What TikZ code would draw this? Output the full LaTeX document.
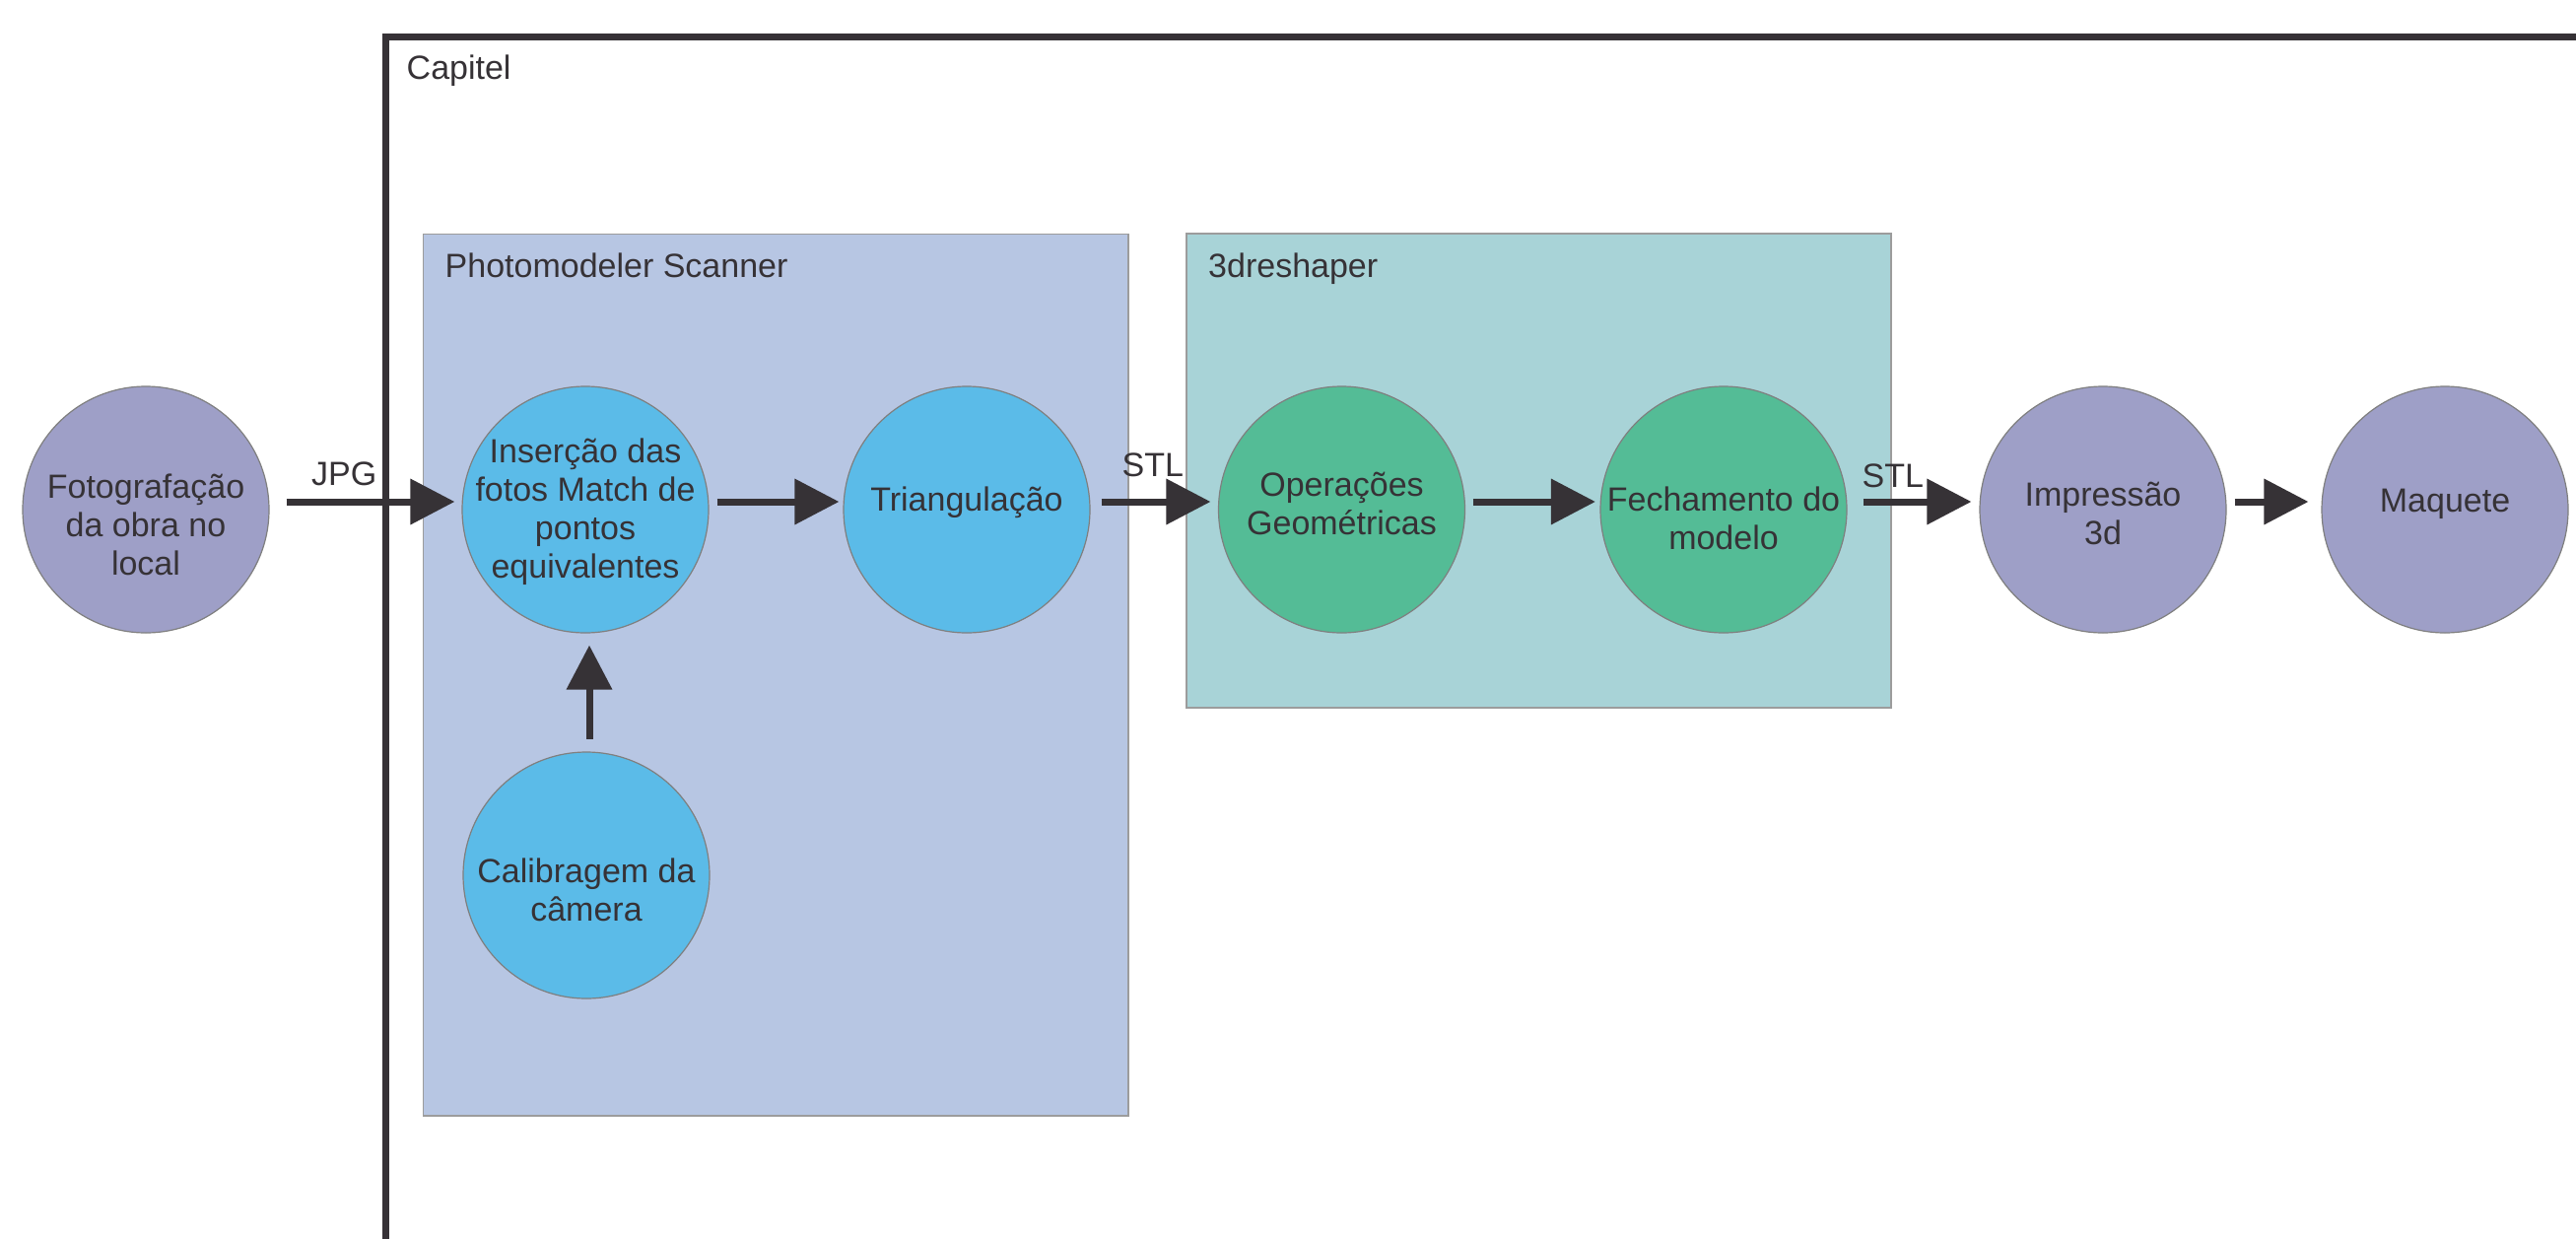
\documentclass[tikz,border=0pt]{standalone}
\usepackage{fontspec}
\setmainfont{Liberation Sans}
\usetikzlibrary{arrows.meta}
\definecolor{ink}{HTML}{363236}
\definecolor{boxA}{HTML}{B7C6E3}
\definecolor{boxB}{HTML}{A8D3D7}
\definecolor{cPurple}{HTML}{9E9FC7}
\definecolor{cBlue}{HTML}{5BBBE8}
\definecolor{cGreen}{HTML}{54BC96}
\definecolor{edgegray}{HTML}{7F7F7F}
\definecolor{boxedge}{HTML}{9C9C9C}
\begin{document}
\begin{tikzpicture}[x=1pt,y=-1pt,
  every node/.style={font=\fontsize{34}{39}\selectfont, text=ink},
  proc/.style={circle, draw=edgegray, line width=1.2pt, minimum size=250pt, inner sep=0pt},
  txt/.style={align=center, inner sep=0pt},
  lbl/.style={anchor=base west, inner sep=0pt},
  flow/.style={draw=ink, line width=7pt, -{Triangle[length=45pt,width=45pt]}},
  grp/.style={draw=boxedge, line width=1.5pt, anchor=north west, inner sep=0pt}]
\useasboundingbox (0,0) rectangle (2614,1256);
\fill[white] (0,0) rectangle (2614,1256);
% Capitel frame
\begin{scope}
\clip (0,0) rectangle (2614,1256);
\coordinate (fbot) at (391,1300);
\coordinate (fcorner) at (391,37);
\coordinate (fright) at (2700,37);
\draw[ink, line width=7pt] (fbot) -- (fcorner) -- (fright);
\end{scope}
\node[lbl] (capl) at (412.5,80.4) {Capitel};
% groups
\node[grp, fill=boxA, minimum width=715.5pt, minimum height=894.4pt] (pm) at (428.5,236.6) {};
\node[grp, fill=boxB, minimum width=715pt, minimum height=481pt] (rs) at (1203,236) {};
\node[lbl] (pml) at (451.5,281) {Photomodeler Scanner};
\node[lbl] (rsl) at (1226,281.4) {3dreshaper};
% circles
\node[proc, fill=cPurple] (foto) at (148,517) {};
\node[proc, fill=cBlue] (ins) at (594,517) {};
\node[proc, fill=cBlue] (tri) at (981,517) {};
\node[proc, fill=cGreen] (ope) at (1361.5,517) {};
\node[proc, fill=cGreen] (fec) at (1749,517) {};
\node[proc, fill=cPurple] (imp) at (2134,517) {};
\node[proc, fill=cPurple] (maq) at (2481,517) {};
\node[proc, fill=cBlue] (cal) at (595,888) {};
% texts
\node[txt] (foto-t) at ([yshift=-15.5pt]foto.center) {Fotografação\\da obra no\\local};
\node[txt] (ins-t) at ([yshift=-2.5pt]ins.center) {Inserção das\\fotos Match de\\pontos\\equivalentes};
\node[txt] (tri-t) at ([yshift=7.7pt]tri.center) {Triangulação};
\node[txt] (ope-t) at ([yshift=5.7pt]ope.center) {Operações\\Geométricas};
\node[txt] (fec-t) at ([yshift=-8.6pt]fec.center) {Fechamento do\\modelo};
\node[txt] (imp-t) at ([yshift=-3.7pt]imp.center) {Impressão\\3d};
\node[txt] (maq-t) at ([yshift=5.5pt]maq.center) {Maquete};
\node[txt] (cal-t) at ([yshift=-15pt]cal.center) {Calibragem da\\câmera};
% connectors
\draw[flow, shorten <=17pt, shorten >=7pt] ([yshift=8pt]foto.east) -- ([yshift=8pt]ins.west);
\draw[flow, shorten <=8pt, shorten >=4pt] ([yshift=8pt]ins.east) -- ([yshift=8pt]tri.west);
\draw[flow, shorten <=11pt, shorten >=7.5pt] ([yshift=8pt]tri.east) -- ([yshift=8pt]ope.west);
\draw[flow, shorten <=7.5pt, shorten >=4.5pt] ([yshift=8pt]ope.east) -- ([yshift=8pt]fec.west);
\draw[flow, shorten <=16pt, shorten >=8pt] ([yshift=8pt]fec.east) -- ([yshift=8pt]imp.west);
\draw[flow, shorten <=8pt, shorten >=13pt] ([yshift=8pt]imp.east) -- ([yshift=8pt]maq.west);
\coordinate (vbot) at ([xshift=3pt]cal.north);
\coordinate (vtop) at (vbot |- ins.south);
\draw[flow, shorten <=12.5pt, shorten >=12pt] (vbot) -- (vtop);
% connector labels
\node[lbl] (jpg) at (316,492) {JPG};
\node[lbl] (stl1) at (1138.5,483) {STL};
\node[lbl] (stl2) at (1889.5,494) {STL};
\end{tikzpicture}
\end{document}
